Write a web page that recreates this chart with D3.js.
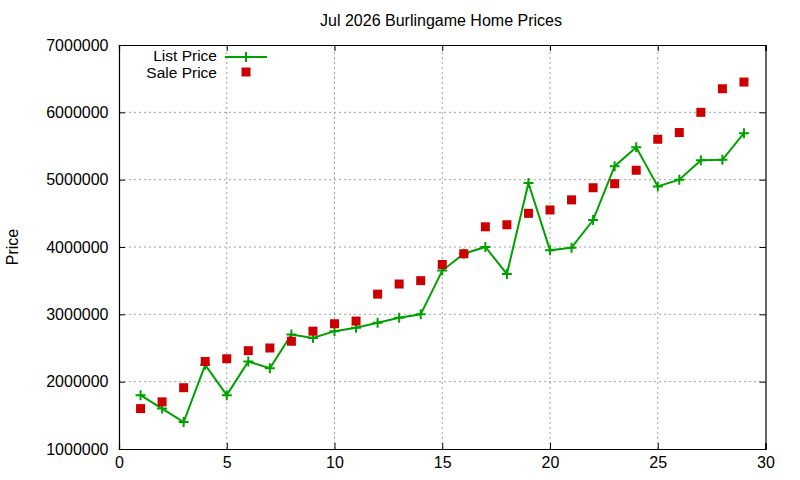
<!DOCTYPE html>
<html>
<head>
<meta charset="utf-8">
<script src="https://cdn.jsdelivr.net/npm/d3@7"></script>
<style>
  body { margin: 0; background: #fff; }
  svg { display: block; font-family: "Liberation Sans", Arial, sans-serif; }
</style>
</head>
<body>
<div class="canvas"></div>
<script>
const days = d3.range(1, 30);
const listPrice = [
  1800000, 1600000, 1400000, 2250000, 1800000, 2300000, 2200000, 2700000, 2650000, 2750000,
  2800000, 2875000, 2950000, 3000000, 3650000, 3900000, 4000000, 3600000, 4950000, 3950000,
  3990000, 4400000, 5200000, 5480000, 4900000, 5000000, 5290000, 5295000, 5690000,
];
const salePrice = [
  1600000, 1700000, 1910000, 2300000, 2340000, 2460000, 2500000, 2600000, 2750000, 2860000,
  2900000, 3300000, 3450000, 3500000, 3740000, 3900000, 4300000, 4330000, 4500000, 4550000,
  4700000, 4880000, 4940000, 5140000, 5600000, 5700000, 6000000, 6350000, 6450000,
];
const xTicks = [0, 5, 10, 15, 20, 25, 30];
const yTicks = [1000000, 2000000, 3000000, 4000000, 5000000, 6000000, 7000000];

const width = 800;
const height = 480;
const margin = { top: 45, right: 34.5, bottom: 31, left: 119 };

const green = "#00a000";
const red = "#cc0000";

const x = d3.scaleLinear().domain([0, 30]).range([margin.left, width - margin.right]);
const y = d3.scaleLinear().domain([1000000, 7000000]).range([height - margin.bottom, margin.top]);

const svg = d3
  .select(".canvas")
  .append("svg")
  .attr("width", width)
  .attr("height", height);

// grid
const grid = svg.append("g").attr("class", "grid");
grid
  .selectAll("line.gx")
  .data(xTicks.slice(1, -1))
  .enter()
  .append("line")
  .attr("x1", (d) => x(d))
  .attr("x2", (d) => x(d))
  .attr("y1", y.range()[0])
  .attr("y2", y.range()[1])
  .attr("stroke", "#a0a0a0")
  .attr("stroke-dasharray", "2,3");
grid
  .selectAll("line.gy")
  .data(yTicks.slice(1, -1))
  .enter()
  .append("line")
  .attr("x1", x.range()[0])
  .attr("x2", x.range()[1])
  .attr("y1", (d) => y(d))
  .attr("y2", (d) => y(d))
  .attr("stroke", "#a0a0a0")
  .attr("stroke-dasharray", "2,3");

// axes (ticks pointing inward, mirrored)
const tickLen = 6;
const bottomAxis = d3.axisBottom(x).tickValues(xTicks).tickSize(-tickLen).tickPadding(8);
const topAxis = d3.axisTop(x).tickValues(xTicks).tickSize(-tickLen).tickFormat("");
const leftAxis = d3.axisLeft(y).tickValues(yTicks).tickSize(-tickLen).tickPadding(10.5).tickFormat(d3.format("d"));
const rightAxis = d3.axisRight(y).tickValues(yTicks).tickSize(-tickLen).tickFormat("");

svg.append("g").attr("transform", `translate(0,${y.range()[0]})`).call(bottomAxis);
svg.append("g").attr("transform", `translate(0,${y.range()[1]})`).call(topAxis);
svg.append("g").attr("transform", `translate(${x.range()[0]},0)`).call(leftAxis);
svg.append("g").attr("transform", `translate(${x.range()[1]},0)`).call(rightAxis);

svg.selectAll(".tick text").attr("font-size", 16).attr("fill", "#000").attr("font-family", "Liberation Sans, Arial, sans-serif");
svg.selectAll(".domain").attr("stroke", "#000").attr("stroke-width", 1.2);
svg.selectAll(".tick line").attr("stroke", "#000");

// title and label
svg
  .append("text")
  .attr("x", 441)
  .attr("y", 26)
  .attr("text-anchor", "middle")
  .attr("font-size", 16)
  .text("Jul 2026 Burlingame Home Prices");

svg
  .append("text")
  .attr("transform", `translate(18,${(y.range()[0] + y.range()[1]) / 2}) rotate(-90)`)
  .attr("text-anchor", "middle")
  .attr("font-size", 16)
  .text("Price");

// list price line
const line = d3
  .line()
  .x((d, i) => x(days[i]))
  .y((d) => y(d));

svg
  .append("path")
  .datum(listPrice)
  .attr("d", line)
  .attr("fill", "none")
  .attr("stroke", green)
  .attr("stroke-width", 2);

const plusPath = (cx, cy, r) => `M${cx - r},${cy}H${cx + r}M${cx},${cy - r}V${cy + r}`;

svg
  .append("g")
  .selectAll("path")
  .data(listPrice)
  .enter()
  .append("path")
  .attr("d", (d, i) => plusPath(x(days[i]), y(d), 5))
  .attr("stroke", green)
  .attr("stroke-width", 2);

// sale price squares
svg
  .append("g")
  .selectAll("rect")
  .data(salePrice)
  .enter()
  .append("rect")
  .attr("x", (d, i) => x(days[i]) - 4.5)
  .attr("y", (d) => y(d) - 4.5)
  .attr("width", 9)
  .attr("height", 9)
  .attr("fill", red);

// legend
const legend = svg.append("g").attr("class", "legend");
legend
  .append("text")
  .attr("x", 217)
  .attr("y", 60.5)
  .attr("text-anchor", "end")
  .attr("font-size", 15.5)
  .text("List Price");
legend
  .append("line")
  .attr("x1", 225)
  .attr("x2", 267)
  .attr("y1", 57)
  .attr("y2", 57)
  .attr("stroke", green)
  .attr("stroke-width", 2);
legend.append("path").attr("d", plusPath(246, 57, 5)).attr("stroke", green).attr("stroke-width", 2);
legend
  .append("text")
  .attr("x", 217)
  .attr("y", 77.5)
  .attr("text-anchor", "end")
  .attr("font-size", 15.5)
  .text("Sale Price");
legend
  .append("rect")
  .attr("x", 241.5)
  .attr("y", 67.5)
  .attr("width", 9)
  .attr("height", 9)
  .attr("fill", red);
</script>
</body>
</html>
